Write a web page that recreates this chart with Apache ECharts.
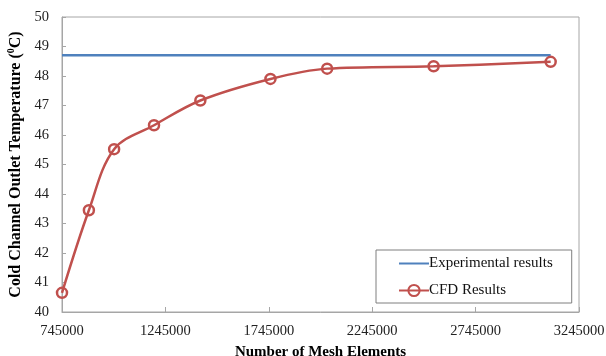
<!DOCTYPE html>
<html>
<head>
<meta charset="utf-8">
<script src="https://cdn.jsdelivr.net/npm/echarts@6/dist/echarts.min.js"></script>
<style>
html,body{margin:0;padding:0;background:#fff;}
#chart{width:606px;height:356px;}
</style>
</head>
<body>
<div id="chart"></div>
<script>
const meshElements = [745000, 875000, 997000, 1190000, 1414000, 1753000, 2027000, 2542000, 3108000];
const cfdTemp = [40.65, 43.45, 45.52, 46.33, 47.17, 47.9, 48.25, 48.33, 48.48];
const expTemp = [48.7, 48.7, 48.7, 48.7, 48.7, 48.7, 48.7, 48.7, 48.7];
const xTicks = [745000, 1245000, 1745000, 2245000, 2745000, 3245000];
const yTicks = [40, 41, 42, 43, 44, 45, 46, 47, 48, 49, 50];

const FONT = "'Liberation Serif', 'Times New Roman', serif";
const axisGray = '#a6a6a6';

const chart = echarts.init(document.getElementById('chart'), null, {renderer: 'canvas'});
chart.setOption({
  animation: false,
  backgroundColor: '#fff',
  textStyle: {fontFamily: FONT},
  grid: {left: 62, right: 27, top: 17, bottom: 44, containLabel: false, outerBoundsMode: 'none',
         show: true, borderColor: axisGray, borderWidth: 1},
  legend: {
    orient: 'vertical',
    left: 376, top: 250,
    padding: [6, 19, 5, 22],
    itemGap: 12,
    itemWidth: 30, itemHeight: 14,
    borderColor: '#7f7f7f', borderWidth: 1,
    textStyle: {fontFamily: FONT, fontSize: 15, color: '#111', padding: [0, 0, 0, -5]},
    data: ['Experimental results', 'CFD Results']
  },
  xAxis: {
    type: 'value',
    min: xTicks[0], max: xTicks[xTicks.length - 1], interval: xTicks[1] - xTicks[0],
    name: 'Number of Mesh Elements',
    nameLocation: 'middle', nameGap: 33,
    nameTextStyle: {fontFamily: FONT, fontSize: 15, fontWeight: 'bold', color: '#000'},
    axisLine: {show: true, lineStyle: {color: axisGray}},
    axisTick: {show: true, inside: true, length: 5, lineStyle: {color: axisGray}},
    axisLabel: {fontFamily: FONT, fontSize: 14.5, color: '#222', margin: 12, formatter: v => String(v)},
    splitLine: {show: false}
  },
  yAxis: {
    type: 'value',
    min: yTicks[0], max: yTicks[yTicks.length - 1], interval: 1,
    name: 'Cold Channel Outlet Temperature ({sup|0}C)',
    nameLocation: 'middle', nameGap: 33,
    nameTextStyle: {
      fontFamily: FONT, fontSize: 16, fontWeight: 'bold', color: '#000',
      rich: {sup: {fontFamily: FONT, fontSize: 10, fontWeight: 'bold', color: '#000', verticalAlign: 'top', lineHeight: 18, padding: [0, 0, 6, 0]}}
    },
    axisLine: {show: true, lineStyle: {color: axisGray}},
    axisTick: {show: true, inside: true, length: 4, lineStyle: {color: axisGray}},
    axisLabel: {fontFamily: FONT, fontSize: 14.5, color: '#222', margin: 13},
    splitLine: {show: false}
  },
  series: [
    {
      name: 'Experimental results',
      type: 'line',
      data: meshElements.map((x, i) => [x, expTemp[i]]),
      showSymbol: false,
      symbol: 'none',
      lineStyle: {color: '#4F81BD', width: 2.5},
      itemStyle: {color: 'rgba(0,0,0,0)', borderWidth: 0}
    },
    {
      name: 'CFD Results',
      type: 'line',
      data: meshElements.map((x, i) => [x, cfdTemp[i]]),
      smooth: 0.35,
      symbol: 'circle',
      symbolSize: 10,
      lineStyle: {color: '#C0504D', width: 2.5},
      itemStyle: {color: 'rgba(0,0,0,0)', borderColor: '#C0504D', borderWidth: 2.5}
    }
  ]
});
</script>
</body>
</html>
